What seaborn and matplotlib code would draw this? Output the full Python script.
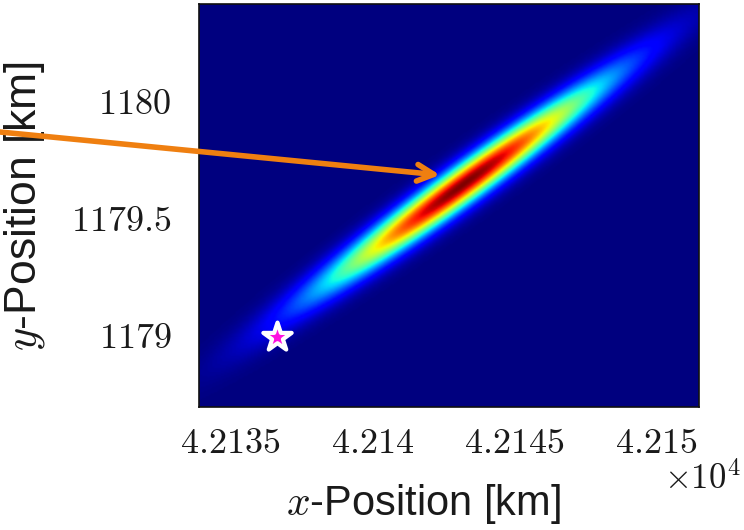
import numpy as np
import matplotlib
matplotlib.use("Agg")
import matplotlib.pyplot as plt
import seaborn as sns
from matplotlib.ticker import FixedLocator

# ---- data ----
x_range = [42133.9, 42151.5]      # km
y_range = [1178.69, 1180.415]     # km
x_ticks = [42135, 42140, 42145, 42150]
x_tick_labels = ["4.2135", "4.214", "4.2145", "4.215"]
y_ticks = [1179.0, 1179.5, 1180.0]
y_tick_labels = ["1179", "1179.5", "1180"]
# Gaussian position-uncertainty density parameters
mean_x, mean_y = 42143.2, 1179.64
sd_x = 3.3
slope_yx = 0.0867
sd_cond = 0.065
star_x = [42136.65]
star_y = [1178.99]

sns.set_style("white")
plt.rcParams["font.family"] = ["Liberation Sans", "DejaVu Sans"]
plt.rcParams["mathtext.fontset"] = "cm"

fig = plt.figure(figsize=(7.44, 5.30), dpi=100)
ax = fig.add_axes([0.2675, 0.232, 0.672, 0.7605])

# density grid
gx = np.linspace(x_range[0], x_range[1], 300)
gy = np.linspace(y_range[0], y_range[1], 300)
X, Y = np.meshgrid(gx, gy)
dx = X - mean_x
dy = Y - (mean_y + slope_yx * dx)
Z = np.exp(-0.5 * (dx / sd_x) ** 2 - 0.5 * (dy / sd_cond) ** 2)

ax.imshow(Z, extent=[x_range[0], x_range[1], y_range[0], y_range[1]],
          origin="lower", aspect="auto", cmap="jet", interpolation="bilinear",
          vmin=0, vmax=1)

sns.scatterplot(x=star_x, y=star_y, marker="*", s=460, color="#FF10E0",
                edgecolor="white", linewidth=3, ax=ax, zorder=5)

ax.set_xlim(x_range)
ax.set_ylim(y_range)
ax.xaxis.set_major_locator(FixedLocator(x_ticks))
ax.yaxis.set_major_locator(FixedLocator(y_ticks))
ax.set_xticklabels(["$" + s + "$" for s in x_tick_labels])
ax.set_yticklabels(["$" + s + "$" for s in y_tick_labels])
ax.tick_params(axis="both", length=0, labelsize=26, colors="#1a1a1a")
ax.tick_params(axis="x", pad=14)
ax.tick_params(axis="y", pad=20)
for sp in ax.spines.values():
    sp.set_color("#101010")
    sp.set_linewidth(1.2)

ax.set_xlabel(r"$x$-Position [km]", fontsize=30, color="#1a1a1a")
ax.xaxis.set_label_coords(0.448, -0.185)
ax.set_ylabel(r"$y$-Position [km]", fontsize=32, color="#1a1a1a")
ax.yaxis.set_label_coords(-0.305, 0.5)

fig.text(0.995, 1 - 489 / 530, r"$\times10^4$", ha="right", va="baseline",
         fontsize=25, color="#1a1a1a")

# orange arrow
ax.annotate("", xy=(440 / 744, 1 - 175 / 530), xycoords="figure fraction",
            xytext=(0.0, 1 - 132 / 530), textcoords="figure fraction",
            arrowprops=dict(arrowstyle="->,head_length=1.2,head_width=0.6",
                            color="#EF7F10", lw=4, capstyle="round",
                            joinstyle="round", shrinkA=0, shrinkB=0),
            annotation_clip=False, zorder=10)

fig.savefig("out.png", dpi=100)
